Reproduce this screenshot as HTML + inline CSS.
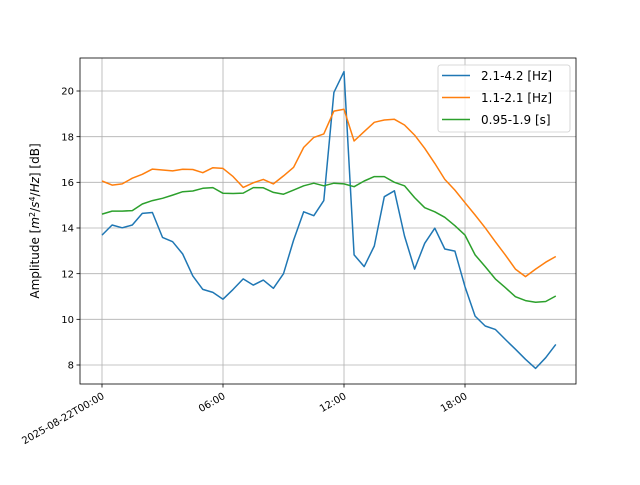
<!DOCTYPE html>
<html><head><meta charset="utf-8"><style>body{margin:0;background:#fff}svg{font-family:"DejaVu Sans","Liberation Sans",sans-serif}</style></head>
<body>
<svg id="c" width="640" height="480" viewBox="0 0 640 480"></svg>
<script>
const hours = Array.from({length:46},(_,i)=>i*0.5);
const blueValues=[13.69,14.13,14.01,14.13,14.64,14.68,13.59,13.40,12.86,11.9,11.31,11.18,10.88,11.31,11.77,11.5,11.72,11.36,12.0,13.47,14.71,14.54,15.2,19.94,20.85,12.82,12.31,13.21,15.37,15.63,13.65,12.2,13.33,13.99,13.08,12.99,11.43,10.14,9.71,9.56,9.12,8.69,8.25,7.85,8.32,8.9];
const orangeValues=[16.06,15.88,15.93,16.18,16.35,16.58,16.54,16.5,16.57,16.56,16.42,16.64,16.61,16.25,15.78,15.98,16.13,15.93,16.28,16.66,17.53,17.97,18.12,19.12,19.2,17.81,18.22,18.63,18.73,18.76,18.51,18.07,17.49,16.83,16.13,15.66,15.11,14.57,14.01,13.40,12.82,12.2,11.87,12.2,12.5,12.75];
const greenValues=[14.61,14.74,14.74,14.76,15.05,15.2,15.3,15.44,15.59,15.62,15.74,15.77,15.52,15.51,15.53,15.77,15.76,15.56,15.48,15.66,15.85,15.96,15.85,15.96,15.93,15.81,16.06,16.25,16.25,16.0,15.85,15.33,14.89,14.71,14.47,14.1,13.69,12.82,12.31,11.77,11.39,10.99,10.82,10.75,10.78,11.02];
const seriesNames=["2.1-4.2 [Hz]","1.1-2.1 [Hz]","0.95-1.9 [s]"];
const yTicks=[8,10,12,14,16,18,20];
const xTickHours=[0,6,12,18];
const xTickLabels=["2025-08-22T00:00","06:00","12:00","18:00"];

const L=80,R=576,T=58,B=384;
const X=h=>102+h*20.167;
const Y=v=>91+(20-v)*22.833;
const svg=document.getElementById('c');
const NS='http://www.w3.org/2000/svg';
function mk(tag,attrs,parent){const e=document.createElementNS(NS,tag);for(const k in attrs)e.setAttribute(k,attrs[k]);(parent||svg).appendChild(e);return e;}

const grid=mk('g',{});


xTickHours.forEach((h,i)=>{
  const x=X(h);
  mk('line',{x1:x,x2:x,y1:T,y2:B,stroke:'#b0b0b0','stroke-width':0.8},grid);
  mk('line',{x1:x,x2:x,y1:B,y2:B+3.5,stroke:'#000','stroke-width':0.8});
  const t=mk('text',{x:x+3,y:B+14,'font-size':10,'text-anchor':'end',transform:`rotate(-30 ${x+3} ${B+14})`});
  t.textContent=xTickLabels[i];
  
  
});
yTicks.forEach(v=>{
  const y=Y(v);
  mk('line',{x1:L,x2:R,y1:y,y2:y,stroke:'#b0b0b0','stroke-width':0.8},grid);
  mk('line',{x1:L-3.5,x2:L,y1:y,y2:y,stroke:'#000','stroke-width':0.8});
  const t=mk('text',{x:L-6,y:y+3.6,'font-size':10,'text-anchor':'end'});
  t.textContent=v;
  
  
});
const colors=['#1f77b4','#ff7f0e','#2ca02c'];
[blueValues,orangeValues,greenValues].forEach((vals,si)=>{
  const p=mk('polyline',{points:vals.map((v,i)=>X(hours[i]).toFixed(1)+','+Y(v).toFixed(1)).join(' '),fill:'none',stroke:colors[si],'stroke-width':1.5,'stroke-linejoin':'round'});
  
  
});
const fr=mk('rect',{x:L,y:T,width:R-L,height:B-T,fill:'none',stroke:'#000','stroke-width':0.8});


const yl=mk('text',{x:39,y:221,'font-size':12,'text-anchor':'middle',transform:'rotate(-90 39 221)'});
yl.innerHTML='Amplitude [<tspan font-style="italic">m</tspan><tspan font-size="8" dy="-4">2</tspan><tspan dy="4">/</tspan><tspan font-style="italic">s</tspan><tspan font-size="8" dy="-4">4</tspan><tspan dy="4">/</tspan><tspan font-style="italic">Hz</tspan>] [dB]';


const lg=mk('g',{});


mk('rect',{x:438,y:65,width:132,height:67,rx:2.5,fill:'#fff','fill-opacity':0.8,stroke:'#ccc','stroke-width':0.8},lg);
seriesNames.forEach((n,i)=>{
  const y=75.5+i*22;
  mk('line',{x1:442,x2:470,y1:y,y2:y,stroke:colors[i],'stroke-width':1.5},lg);
  const t=mk('text',{x:481,y:y+4.5,'font-size':12},lg);
  t.textContent=n;
  
  
});
</script>
</body></html>
